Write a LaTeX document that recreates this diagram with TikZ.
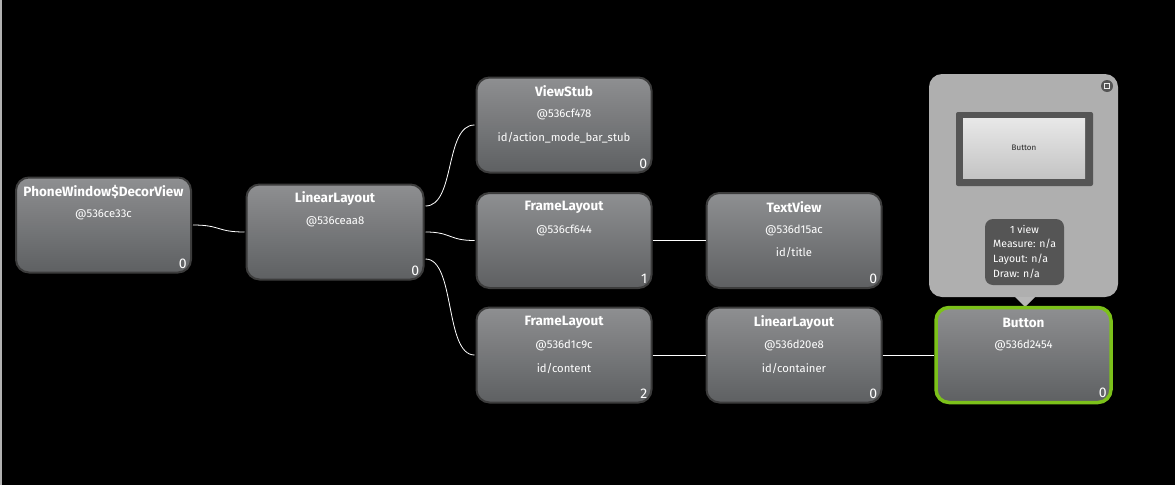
\documentclass[tikz,border=0pt]{standalone}
\usepackage{fontspec}
\setmainfont{Fira Sans}
\begin{document}
\begin{tikzpicture}[x=1pt,y=-1pt,
  vbox/.style={draw=boxedge, line width=2pt, rounded corners=13pt, top color=boxtop, bottom color=boxbot,
    minimum width=175pt, minimum height=95pt, inner sep=0pt},
  selbox/.style={vbox, draw=selgreen, line width=3.5pt},
  ttl/.style={text=white, font=\fontsize{13.5}{15}\selectfont\bfseries, inner sep=0pt},
  sub/.style={text=white, font=\fontsize{11.3}{13}\selectfont, inner sep=0pt},
  cnt/.style={text=white, font=\fontsize{14}{15}\selectfont, inner sep=0pt, anchor=south east},
  link/.style={draw=white, line width=0.8pt},
  info/.style={text=white, font=\fontsize{10.5}{12}\selectfont, inner sep=0pt, anchor=west}]
\definecolor{boxedge}{HTML}{3C3C3C}
\definecolor{boxtop}{HTML}{8E8F91}
\definecolor{boxbot}{HTML}{5E6062}
\definecolor{selgreen}{HTML}{7CC11A}
\definecolor{popgray}{HTML}{AFAFAF}
\definecolor{darkgray}{HTML}{555555}
\definecolor{pvtop}{HTML}{E8E8E8}
\definecolor{pvbot}{HTML}{C4C4C4}

\fill[black] (0,0) rectangle (1175,485);
\useasboundingbox (0,0) rectangle (1175,485);
\draw[gray!60, line width=1.5pt] (0.75,0) -- (0.75,485);

% popup
\fill[popgray, rounded corners=13pt] (929,74) rectangle (1118,297);
\fill[popgray!90!white] (1015,297) -- (1035,297) -- (1025,307) -- cycle;
\fill[darkgray] (1107,86) circle (6);
\draw[white!85!gray, line width=0.9pt] (1104.3,83.3) rectangle (1109.7,88.7);
\fill[darkgray, rounded corners=2pt] (956,112) rectangle (1093,186);
\shade[top color=pvtop, bottom color=pvbot] (963,118) rectangle (1085,178);
\node[text=black!85, font=\fontsize{8}{9}\selectfont, inner sep=0pt] (pvt) at (1024,148) {Button};
\fill[darkgray, rounded corners=8pt] (985,219) rectangle (1064,285);
\node[info, anchor=center] (i1) at (1024.5,229) {1 view};
\node[info] (i2) at (993,244) {Measure: n/a};
\node[info] (i3) at (993,259) {Layout: n/a};
\node[info] (i4) at (993,274) {Draw: n/a};

% nodes
\node[vbox] (dv) at (103.5,225) {};
\node[vbox, minimum width=177pt] (ll1) at (335,232) {};
\node[vbox] (vs) at (564,125) {};
\node[vbox] (fl1) at (564,240.5) {};
\node[vbox] (tv) at (794,240.5) {};
\node[vbox] (fl2) at (564,355) {};
\node[vbox] (ll2) at (794,355) {};
\node[selbox] (bt) at (1023.5,355) {};

\node[ttl] at ([yshift=-15pt]dv.north) {PhoneWindow\$DecorView};
\node[sub] at ([yshift=-38pt]dv.north) {@536ce33c};
\node[cnt] at ([xshift=-5pt,yshift=5pt]dv.south east) {0};

\node[ttl] at ([yshift=-15pt]ll1.north) {LinearLayout};
\node[sub] at ([yshift=-38pt]ll1.north) {@536ceaa8};
\node[cnt] at ([xshift=-5pt,yshift=5pt]ll1.south east) {0};

\node[ttl] at ([yshift=-15pt]vs.north) {ViewStub};
\node[sub] at ([yshift=-38pt]vs.north) {@536cf478};
\node[sub] at ([yshift=-61pt]vs.north) {id/action\_mode\_bar\_stub};
\node[cnt] at ([xshift=-5pt,yshift=5pt]vs.south east) {0};

\node[ttl] at ([yshift=-15pt]fl1.north) {FrameLayout};
\node[sub] at ([yshift=-38pt]fl1.north) {@536cf644};
\node[cnt] at ([xshift=-5pt,yshift=5pt]fl1.south east) {1};

\node[ttl] at ([yshift=-15pt]tv.north) {TextView};
\node[sub] at ([yshift=-38pt]tv.north) {@536d15ac};
\node[sub] at ([yshift=-61pt]tv.north) {id/title};
\node[cnt] at ([xshift=-5pt,yshift=5pt]tv.south east) {0};

\node[ttl] at ([yshift=-16pt]fl2.north) {FrameLayout};
\node[sub] at ([yshift=-39pt]fl2.north) {@536d1c9c};
\node[sub] at ([yshift=-62pt]fl2.north) {id/content};
\node[cnt] at ([xshift=-5pt,yshift=5pt]fl2.south east) {2};

\node[ttl] at ([yshift=-16pt]ll2.north) {LinearLayout};
\node[sub] at ([yshift=-39pt]ll2.north) {@536d20e8};
\node[sub] at ([yshift=-62pt]ll2.north) {id/container};
\node[cnt] at ([xshift=-5pt,yshift=5pt]ll2.south east) {0};

\node[ttl] at ([yshift=-17pt]bt.north) {Button};
\node[sub] at ([yshift=-40pt]bt.north) {@536d2454};
\node[cnt] at ([xshift=-6pt,yshift=6pt]bt.south east) {0};

% connectors
\draw[link] ([xshift=1pt]dv.east) .. controls +(28,0) and +(-28,0) .. ([xshift=-1pt]ll1.west);
\draw[link] ([xshift=1pt,yshift=26pt]ll1.east) .. controls +(30,0) and +(-30,0) .. ([xshift=-1pt]vs.west);
\draw[link] ([xshift=1pt]ll1.east) .. controls +(26,0) and +(-26,0) .. ([xshift=-1pt]fl1.west);
\draw[link] ([xshift=1pt,yshift=-27pt]ll1.east) .. controls +(30,0) and +(-30,0) .. ([xshift=-1pt]fl2.west);
\draw[link] (fl1.east) -- (tv.west);
\draw[link] (fl2.east) -- (ll2.west);
\draw[link] (ll2.east) -- (bt.west);
\end{tikzpicture}
\end{document}
